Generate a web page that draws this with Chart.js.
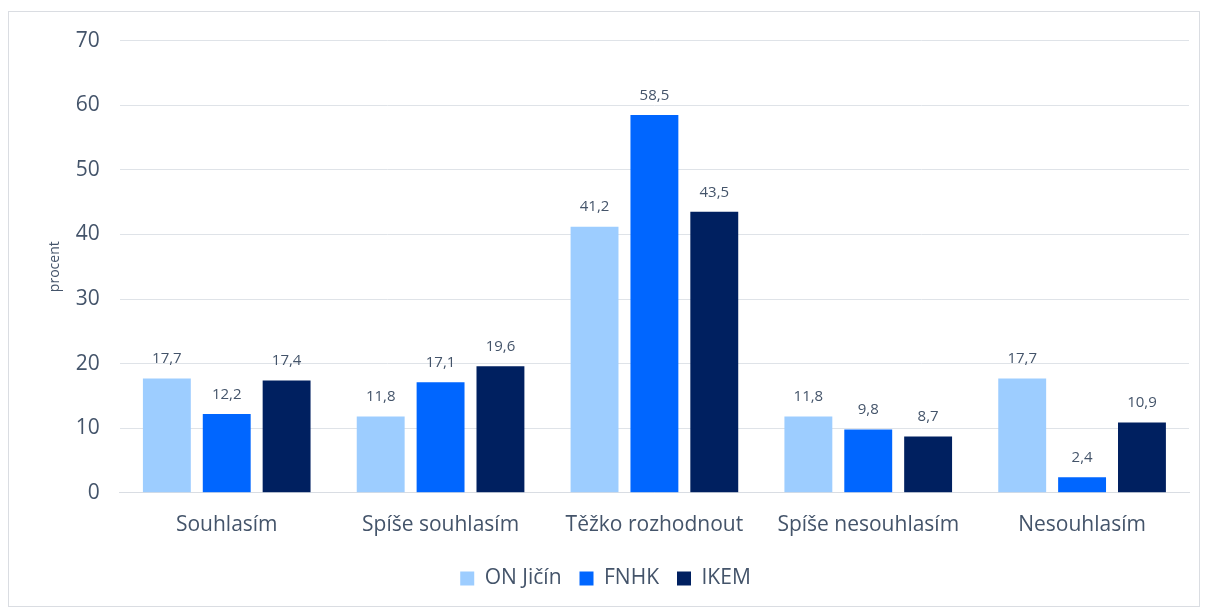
<!DOCTYPE html>
<html>
<head>
<meta charset="utf-8">
<script src="https://cdn.jsdelivr.net/npm/chart.js@4.4.1/dist/chart.umd.min.js"></script>
<style>
    html, body { margin: 0; padding: 0; background: #fff; }
    #box {
        position: absolute;
        left: 8px;
        top: 11px;
        width: 1192px;
        height: 596px;
        border: 1px solid #dadde2;
        box-sizing: border-box;
    }
    #chartOdpovedi { position: absolute; left: 0; top: -4px; }
</style>
</head>
<body>
<div id="box"><canvas id="chartOdpovedi"></canvas></div>
<script>
var kategorie = ["Souhlasím", "Spíše souhlasím", "Těžko rozhodnout", "Spíše nesouhlasím", "Nesouhlasím"];
var onJicin = [17.7, 11.8, 41.2, 11.8, 17.7];
var fnhk = [12.2, 17.1, 58.5, 9.8, 2.4];
var ikem = [17.4, 19.6, 43.5, 8.7, 10.9];
var osaY = [0, 10, 20, 30, 40, 50, 60, 70];

var textColor = "#44546a";
var fontName = "'Open Sans', 'Noto Sans', sans-serif";

// popisky hodnot nad sloupci (cislo s desetinnou carkou)
var hodnotyPlugin = {
    id: "hodnoty",
    afterDatasetsDraw: function (chart) {
        var ctx = chart.ctx;
        ctx.save();
        ctx.fillStyle = textColor;
        ctx.font = "15px " + fontName;
        ctx.textAlign = "center";
        ctx.textBaseline = "bottom";
        chart.data.datasets.forEach(function (ds, i) {
            chart.getDatasetMeta(i).data.forEach(function (bar, j) {
                var txt = ds.data[j].toFixed(1).replace(".", ",");
                ctx.fillText(txt, bar.x, bar.y - 12);
            });
        });
        ctx.restore();
    },
};

var box = document.getElementById("box");
var canvas = document.getElementById("chartOdpovedi");
canvas.width = box.clientWidth;
canvas.height = box.clientHeight + 4;

new Chart(canvas, {
    type: "bar",
    data: {
        labels: kategorie,
        datasets: [
            { label: "ON Jičín", data: onJicin, backgroundColor: "#9dcdff" },
            { label: "FNHK", data: fnhk, backgroundColor: "#0066ff" },
            { label: "IKEM", data: ikem, backgroundColor: "#002060" },
        ],
    },
    options: {
        responsive: false,
        animation: false,
        categoryPercentage: 0.84,
        barPercentage: 0.8,
        layout: {
            padding: { top: 6, right: 10, left: 13, bottom: 7 },
        },
        plugins: {
            tooltip: { enabled: false },
            legend: {
                position: "bottom",
                labels: {
                    color: textColor,
                    font: { size: 21, family: fontName },
                    boxWidth: 14,
                    boxHeight: 14,
                    padding: 18,
                },
            },
        },
        scales: {
            x: {
                grid: { display: false },
                border: { color: "#d9dde3" },
                ticks: {
                    color: textColor,
                    font: { size: 21, family: fontName },
                    padding: 12,
                },
            },
            y: {
                min: 0,
                max: 70,
                afterBuildTicks: function (axis) {
                    axis.ticks = osaY.map(function (v) { return { value: v }; });
                },
                grid: { color: "#dfe3e8", drawTicks: false },
                border: { display: false },
                ticks: {
                    color: textColor,
                    font: { size: 21, family: fontName },
                    padding: 20,
                },
                title: {
                    display: true,
                    text: "procent",
                    color: textColor,
                    font: { size: 14, family: fontName },
                    padding: { top: 25, bottom: -8 },
                },
            },
        },
    },
    plugins: [hodnotyPlugin],
});
</script>
</body>
</html>
